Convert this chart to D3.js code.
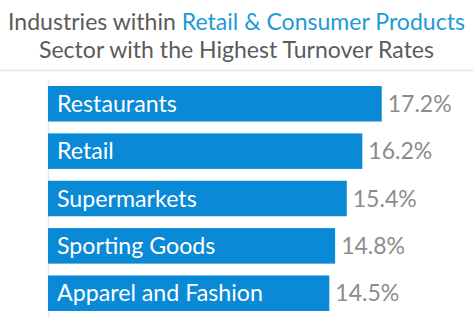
<!DOCTYPE html>
<html><head><meta charset="utf-8">
<script src="https://cdn.jsdelivr.net/npm/d3@7"></script>
<style>html,body{margin:0;padding:0;background:#fff;}svg{display:block;}</style>
</head><body>
<script>
const categories = ["Restaurants","Retail","Supermarkets","Sporting Goods","Apparel and Fashion"];
const values = [17.2,16.2,15.4,14.8,14.5];
const valueLabels = ["17.2%","16.2%","15.4%","14.8%","14.5%"];
const titleParts = ["Industries within ","Retail & Consumer Products"];
const titleLine2 = "Sector with the Highest Turnover Rates";

const W=473,H=330, FONT="Lato, 'Source Sans Pro', sans-serif";
const svg=d3.select("body").append("svg").attr("width",W).attr("height",H);

function fit(sel,target){ // scale font-size to reach target width
  const n=sel.node(); const fs=parseFloat(sel.attr("font-size"));
  const w=n.getComputedTextLength(); sel.attr("font-size",fs*target/w);
}

// title
const t1=svg.append("text").attr("x",W/2).attr("y",30).attr("text-anchor","middle")
  .attr("font-family",FONT).attr("font-size",22).attr("fill","#5b5b5b");
t1.append("tspan").text(titleParts[0]);
t1.append("tspan").attr("fill","#1d9ad8").text(titleParts[1]);
fit(t1,457);
const t2=svg.append("text").attr("x",W/2).attr("y",58).attr("text-anchor","middle")
  .attr("font-family",FONT).attr("font-size",+t1.attr("font-size")).attr("fill","#5b5b5b").text(titleLine2);

svg.append("line").attr("x1",0).attr("x2",W).attr("y1",70.5).attr("y2",70.5).attr("stroke","#e4e4e4").attr("stroke-width",1.5);

const x=d3.scaleLinear().domain([0,17.2]).range([48,381.7]);
const y=d3.scaleBand().domain(categories).range([86,311]).paddingInner(0.25).paddingOuter(0);

svg.append("line").attr("x1",48.5).attr("x2",48.5).attr("y1",80).attr("y2",318).attr("stroke","#e8e8e8").attr("stroke-width",1.5);

const g=svg.selectAll("g.bar").data(categories).enter().append("g");
g.append("rect").attr("x",x(0)).attr("y",d=>y(d)).attr("width",(d,i)=>x(values[i])-x(0))
  .attr("height",y.bandwidth()).attr("fill","#0a89d6");
const cl=g.append("text").attr("x",x(0)+9).attr("y",d=>y(d)+y.bandwidth()/2+8)
  .attr("font-family",FONT).attr("font-size",22).attr("fill","#fff").text(d=>d);
// fit category font size using the longest label
const longest=cl.filter((d,i)=>i===4); const fs0=22; const w4=longest.node().getComputedTextLength();
cl.attr("font-size",fs0*206/w4);
const vl=g.append("text").attr("x",(d,i)=>x(values[i])+6).attr("y",d=>y(d)+y.bandwidth()/2+8)
  .attr("font-family",FONT).attr("font-size",20).attr("fill","#8c8c8c").text((d,i)=>valueLabels[i]);
const v0=vl.filter((d,i)=>i===0).node().getComputedTextLength();
vl.attr("font-size",20*64/v0);
</script>
</body></html>
